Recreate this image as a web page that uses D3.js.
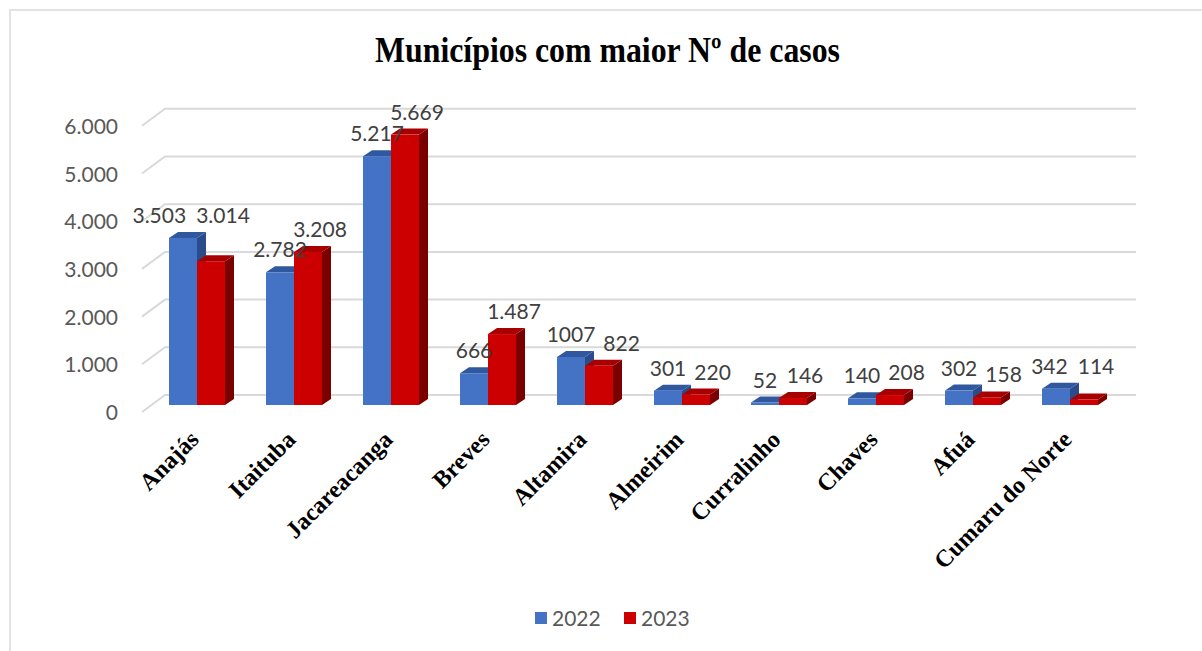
<!DOCTYPE html>
<html>
<head>
<meta charset="utf-8">
<script src="https://cdnjs.cloudflare.com/ajax/libs/d3/7.8.5/d3.min.js"></script>
<style>
  body { margin: 0; background: #fff; }
  .tick-label { font-family: Lato, "Open Sans", sans-serif; font-size: 21px; fill: #595959; }
  .data-label { font-family: Lato, "Open Sans", sans-serif; font-size: 21px; fill: #404040; }
  .cat-label { font-family: "Liberation Serif", "Times New Roman", serif; font-weight: bold; font-size: 24px; fill: #000; }
</style>
</head>
<body>
<script>
// Data
// =================================
var municipios = ["Anajás", "Itaituba", "Jacareacanga", "Breves", "Altamira",
    "Almeirim", "Curralinho", "Chaves", "Afuá", "Cumaru do Norte"];
var casos2022 = [3503, 2782, 5217, 666, 1007, 301, 52, 140, 302, 342];
var casos2023 = [3014, 3208, 5669, 1487, 822, 220, 146, 208, 158, 114];
var seriesNames = ["2022", "2023"];
var yTicks = [0, 1000, 2000, 3000, 4000, 5000, 6000];
// labels as they appear on the chart (Brazilian format, 1007 was typed without a dot)
var labels2022 = ["3.503", "2.782", "5.217", "666", "1007", "301", "52", "140", "302", "342"];
var labels2023 = ["3.014", "3.208", "5.669", "1.487", "822", "220", "146", "208", "158", "114"];

// SVG area
// =================================
var svgWidth = 1202;
var svgHeight = 651;

var colors = {
    "2022": { front: "#4472C4", top: "#30589F", side: "#2A4C8A" },
    "2023": { front: "#CC0000", top: "#A80000", side: "#7A0000" }
};

// 3D depth of the bars and of the back wall
var depthX = 9, depthY = -6;
var wallX = 23, wallY = -17;

var svg = d3.select("body")
    .append("svg")
    .attr("width", svgWidth)
    .attr("height", svgHeight);

// frame
svg.append("path")
    .attr("d", "M10,651 V10 H1202")
    .attr("fill", "none")
    .attr("stroke", "#e3e3e3")
    .attr("stroke-width", 2);

// Title
svg.append("text")
    .attr("x", 375)
    .attr("y", 62)
    .attr("textLength", 465)
    .attr("lengthAdjust", "spacingAndGlyphs")
    .style("font-family", "'Liberation Serif', 'Times New Roman', serif")
    .style("font-weight", "bold")
    .style("font-size", "35px")
    .text("Municípios com maior Nº de casos");

// Scales
// =================================
var xBandScale = d3.scaleBand()
    .domain(municipios)
    .range([148.5, 1118.5]);

var xSeries = d3.scaleBand()
    .domain(seriesNames)
    .range([0, 56]);

var yLinearScale = d3.scaleLinear()
    .domain([0, 6000])
    .range([405, 118.8]);

// Gridlines on the back wall with the perspective segment on the left
// =================================
var grid = svg.append("g");
yTicks.forEach(function (t) {
    var yf = yLinearScale(t) + 7;
    var yb = yf + wallY;
    grid.append("path")
        .attr("d", `M142,${yf} L${142 + wallX},${yb} H1136`)
        .attr("fill", "none")
        .attr("stroke", "#d9d9d9")
        .attr("stroke-width", 2);
    svg.append("text")
        .attr("class", "tick-label")
        .attr("x", 118)
        .attr("y", yf + 8)
        .attr("text-anchor", "end")
        .text(d3.format(",")(t).replace(/,/g, "."));
});

// Bars
// =================================
var groupData = municipios.map(function (m, i) {
    return [
        { cat: m, key: "2022", value: casos2022[i], label: labels2022[i] },
        { cat: m, key: "2023", value: casos2023[i], label: labels2023[i] }
    ];
});

var barsGroup = svg.append("g");
var bw = xSeries.bandwidth();

function barX(d) {
    return xBandScale(d.cat) + (xBandScale.bandwidth() - 56) / 2 + xSeries(d.key);
}

groupData.forEach(function (pair) {
    pair.forEach(function (d) {
        var x0 = barX(d);
        var yTop = yLinearScale(d.value);
        var yBot = yLinearScale(0);
        var c = colors[d.key];
        // right side
        barsGroup.append("path")
            .attr("d", `M${x0 + bw},${yTop} l${depthX},${depthY} V${yBot + depthY} l${-depthX},${-depthY} Z`)
            .attr("fill", c.side);
        // top
        barsGroup.append("path")
            .attr("d", `M${x0},${yTop} l${depthX},${depthY} h${bw} l${-depthX},${-depthY} Z`)
            .attr("fill", c.top);
        // front
        barsGroup.append("rect")
            .attr("x", x0)
            .attr("y", yTop)
            .attr("width", bw)
            .attr("height", yBot - yTop)
            .attr("fill", c.front);
    });
});

// Data labels
// =================================
var labelsGroup = svg.append("g");
groupData.forEach(function (pair) {
    var texts = pair.map(function (d, i) {
        var t = labelsGroup.append("text")
            .attr("class", "data-label")
            .attr("text-anchor", "middle")
            .text(d.label);
        var w = t.node().getComputedTextLength();
        return { sel: t, w: w, cx: barX(d) + bw / 2 + (i === 1 ? 12 : 0), y: yLinearScale(d.value) - 15 };
    });
    var blue = texts[0], red = texts[1];
    var blueTop = yLinearScale(pair[0].value) + depthY;
    var blueRight = barX(pair[0]) + bw + depthX;
    var gap = 8;

    // 2023 label sitting on the taller 2022 bar: lift it above, push 2022 label left
    if (red.cx - red.w / 2 < blueRight && red.y > blueTop) {
        red.y = blueTop - 9;
        blue.y = Math.min(blue.y, red.y);
        blue.cx = Math.min(blue.cx, red.cx - (red.w + blue.w) / 2 - 10);
    }
    // labels too close to each other: push the 2023 label right
    else if (Math.abs(red.y - blue.y) < 16 && red.cx - blue.cx < (red.w + blue.w) / 2 + gap) {
        red.cx = blue.cx + (red.w + blue.w) / 2 + gap;
    }
    texts.forEach(function (t) {
        t.sel.attr("x", t.cx).attr("y", t.y);
    });
});

// Category labels (rotated)
// =================================
municipios.forEach(function (m) {
    var cx = xBandScale(m) + xBandScale.bandwidth() / 2 + 3;
    var cy = 441;
    svg.append("text")
        .attr("class", "cat-label")
        .attr("text-anchor", "end")
        .attr("transform", `translate(${cx}, ${cy}) rotate(-45)`)
        .text(m);
});

// Legend
// =================================
var legend = svg.append("g");
var legendX = [535, 624];
seriesNames.forEach(function (s, i) {
    legend.append("rect")
        .attr("x", legendX[i])
        .attr("y", 612)
        .attr("width", 12)
        .attr("height", 12)
        .attr("fill", colors[s].front);
    legend.append("text")
        .attr("class", "tick-label")
        .attr("x", legendX[i] + 17)
        .attr("y", 626)
        .text(s);
});
</script>
</body>
</html>
